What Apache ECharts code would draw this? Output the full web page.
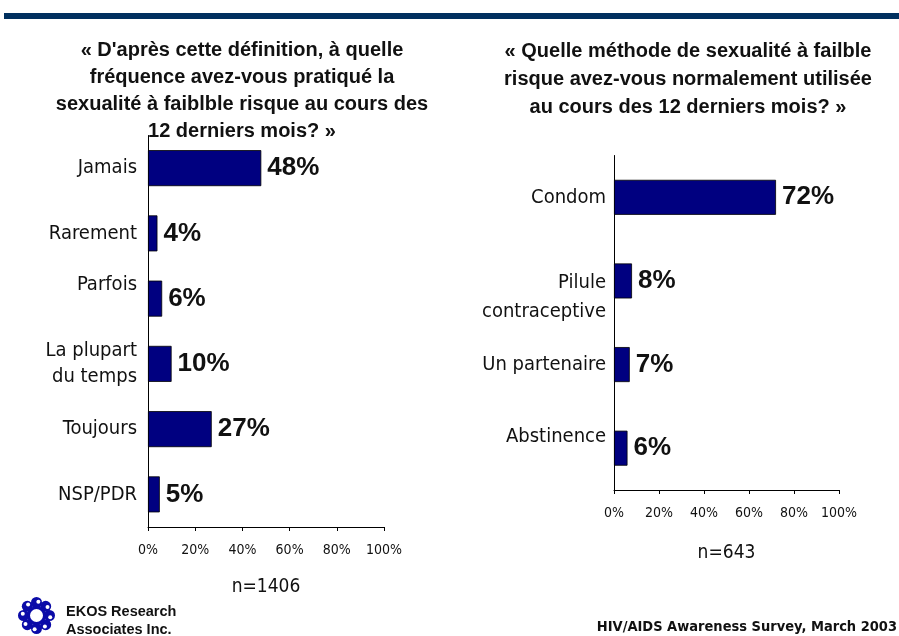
<!DOCTYPE html>
<html>
<head>
<meta charset="utf-8">
<script src="https://cdn.jsdelivr.net/npm/echarts@6/dist/echarts.min.js"></script>
<style>
  html, body { margin: 0; padding: 0; background: #fff; }
  #chart { width: 899px; height: 636px; }
</style>
</head>
<body>
<div id="chart"></div>
<script>
// Survey results: frequency of lower-risk sex, and method used
const freqCategories = ['Jamais', 'Rarement', 'Parfois', 'La plupart\ndu temps', 'Toujours', 'NSP/PDR'];
const freqValues = [48, 4, 6, 10, 27, 5];
const methodCategories = ['Condom', 'Pilule\ncontraceptive', 'Un partenaire', 'Abstinence'];
const methodValues = [72, 8, 7, 6];
const pctTicks = ['0%', '20%', '40%', '60%', '80%', '100%'];
const freqTitle = "« D'après cette définition, à quelle\nfréquence avez-vous pratiqué la\nsexualité à faiblble risque au cours des\n12 derniers mois? »";
const methodTitle = "« Quelle méthode de sexualité à failble\nrisque avez-vous normalement utilisée\nau cours des 12 derniers mois? »";
const freqN = 'n=1406';
const methodN = 'n=643';

const NARROW = "'DejaVu Sans Condensed', 'Liberation Sans Narrow', 'Liberation Sans', sans-serif";
const WIDE = "'Liberation Sans', Arial, sans-serif";
const NAVY = '#000080';

const chart = echarts.init(document.getElementById('chart'));

// category label styles; spacer lines nudge a few labels vertically
const catRich = {
  p: { fontFamily: NARROW, fontSize: 20, color: '#111', lineHeight: 26, align: 'right' },
  q: { fontFamily: NARROW, fontSize: 20, color: '#111', lineHeight: 29, align: 'right' },
  s28: { fontSize: 1, lineHeight: 28 },
  s22: { fontSize: 1, lineHeight: 22 },
  s33: { fontSize: 1, lineHeight: 33 }
};
function freqLabel(v) {
  if (v === 'Parfois') return '{p|Parfois}\n{s28| }';
  return v.split('\n').map(t => '{p|' + t + '}').join('\n');
}
function methodLabel(v) {
  if (v.indexOf('\n') >= 0) return '{s33| }\n' + v.split('\n').map(t => '{q|' + t + '}').join('\n');
  if (v === 'Abstinence') return '{p|Abstinence}\n{s22| }';
  return '{p|' + v + '}';
}

function valueAxis(gridIndex, name, gap) {
  return {
    type: 'value', gridIndex, min: 0, max: 100, interval: 20,
    splitLine: { show: false },
    axisLine: { show: true, lineStyle: { color: '#000', width: 1 } },
    axisTick: { show: true, length: 4, lineStyle: { color: '#000' } },
    axisLabel: {
      fontFamily: NARROW, fontSize: 14, color: '#111', margin: 16,
      formatter: v => pctTicks[v / 20]
    },
    name, nameLocation: 'middle', nameGap: gap,
    nameTextStyle: { fontFamily: NARROW, fontSize: 19, color: '#111' }
  };
}
function catAxis(gridIndex, data, fmt, margin) {
  return {
    type: 'category', gridIndex, data, inverse: true,
    axisLine: { show: true, onZero: false, lineStyle: { color: '#000', width: 1 } },
    axisTick: { show: false },
    axisLabel: { margin, formatter: fmt, rich: catRich }
  };
}
function barSeries(idx, data, barWidth) {
  return {
    type: 'bar', xAxisIndex: idx, yAxisIndex: idx, data, barWidth,
    itemStyle: { color: NAVY, borderColor: '#000', borderWidth: 0.8 },
    label: {
      show: true, position: 'right', distance: 6,
      fontFamily: WIDE, fontWeight: 'bold', fontSize: 26, color: '#111',
      formatter: p => p.value + '%'
    },
    silent: true, animation: false
  };
}

chart.setOption({
  backgroundColor: '#fff',
  animation: false,
  title: [
    { text: freqTitle, left: 237, top: 32, textAlign: 'center',
      textStyle: { fontFamily: WIDE, fontWeight: 'bold', fontSize: 20, lineHeight: 27, color: '#111', align: 'center' } },
    { text: methodTitle, left: 683, top: 32, textAlign: 'center',
      textStyle: { fontFamily: WIDE, fontWeight: 'bold', fontSize: 20, lineHeight: 28, color: '#111', align: 'center' } }
  ],
  grid: [
    { left: 148, right: 515, top: 135.5, bottom: 109 },
    { left: 614, right: 60, top: 155.5, bottom: 146 }
  ],
  xAxis: [valueAxis(0, freqN, 51), valueAxis(1, methodN, 54)],
  yAxis: [catAxis(0, freqCategories, freqLabel, 11), catAxis(1, methodCategories, methodLabel, 8)],
  series: [barSeries(0, freqValues, 36), barSeries(1, methodValues, 35)],
  graphic: [
    { type: 'rect', shape: { x: 4, y: 13, width: 895, height: 6 }, style: { fill: '#01305f' } },
    { type: 'group', left: 18, top: 597, children: (function () {
        const els = [];
        const cx = 19, cy = 19;
        for (let i = 0; i < 8; i++) {
          const a = i * Math.PI / 4;
          const x = cx + 13 * Math.cos(a), y = cy + 13 * Math.sin(a);
          els.push({ type: 'circle', shape: { cx: x, cy: y, r: 5.5 }, style: { fill: '#0b0ba8' } });
          els.push({ type: 'circle', shape: { cx: x + 2 * Math.cos(a + 1.2), cy: y + 2 * Math.sin(a + 1.2), r: 2 }, style: { fill: '#fff' } });
        }
        els.push({ type: 'circle', shape: { cx, cy, r: 8 }, style: { fill: '#fff', stroke: '#0b0ba8', lineWidth: 3 } });
        return els;
      })() },
    { type: 'text', left: 66, top: 603, style: { text: 'EKOS Research\nAssociates Inc.', fontFamily: WIDE, fontWeight: 'bold', fontSize: 14.5, lineHeight: 18, fill: '#111' } },
    { type: 'text', right: 2, top: 620, style: { text: 'HIV/AIDS Awareness Survey, March 2003', fontFamily: NARROW, fontWeight: 'bold', fontSize: 14.5, fill: '#111' } }
  ]
});
</script>
</body>
</html>
